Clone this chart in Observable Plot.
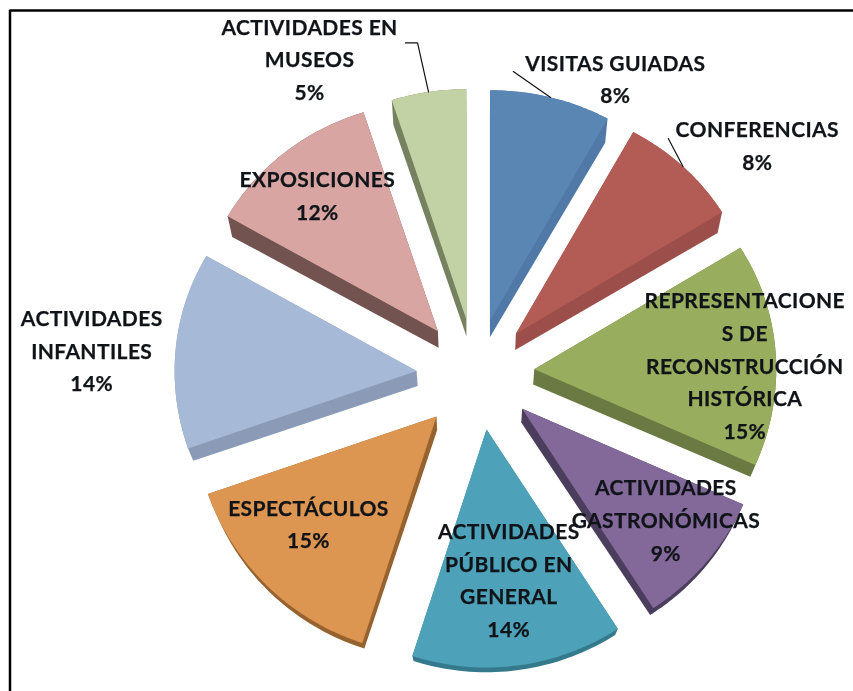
<!DOCTYPE html>
<html>
<head>
<meta charset="utf-8">
<script src="https://cdn.jsdelivr.net/npm/d3@7"></script>
<script src="https://cdn.jsdelivr.net/npm/@observablehq/plot@0.6"></script>
<style>
html,body{margin:0;padding:0;background:#fff}
svg{display:block;filter:blur(0.45px)}
svg text{letter-spacing:0.4px;stroke:#101418;stroke-width:0.25px}
</style>
</head>
<body>
<div id="chart"></div>
<script>
// Data
const labels = [
  "VISITAS GUIADAS", "CONFERENCIAS", "REPRESENTACIONE\nS DE\nRECONSTRUCCIÓN\nHISTÓRICA",
  "ACTIVIDADES\nGASTRONÓMICAS", "ACTIVIDADES\nPÚBLICO EN\nGENERAL", "ESPECTÁCULOS",
  "ACTIVIDADES\nINFANTILES", "EXPOSICIONES", "ACTIVIDADES EN\nMUSEOS"
];
const values = [8, 8, 15, 9, 14, 15, 14, 12, 5];
const faceColors = ["#5a86b4", "#b35c56", "#98ad5e", "#82699a", "#4da2b9", "#dd9552", "#a6b9d7", "#d8a5a3", "#c2d2a4"];
const sideColors = ["#5179a8", "#9c4f4a", "#6b7a42", "#4b3d5c", "#357a8c", "#96632f", "#8b9bb7", "#735350", "#76825f"];
// Manual label layout (offset of each label block from its slice's anchor)
const labelDx = [89, 142, 66, 29, -5, -32, -180, -28, -134];
const labelDy = [-107, -87, 10, 27, 15.5, 4.5, -11, -29, -123];
// Leader lines: offsets from label-block centre to the leader's bends (slices without one are empty)
const leaderBends = [[[-102, -8]], [[-89, -7.5]], [], [], [], [], [], [], [[108, -17], [96, -17]]];

// Pie geometry (a tilted, exploded 3-D pie seen in perspective)
const W = 853, H = 691;
const pie = {cx: 475, cy: 374, rx: 242, ry: 230, ryNear: 8, explodeX: 59, explodeY: 56,
             depth: 15, depthSlopeY: 0.035, depthSlopeX: 0.018, warp: 3.5 * Math.PI / 180};
const arcs = d3.pie().sort(null).startAngle(0).endAngle(2 * Math.PI)(values);
const at = (a, fx, fy) => [pie.cx + fx * Math.sin(a), pie.cy - fy * Math.cos(a)];
const extrude = ([x, y]) => [x - (x - pie.cx) * pie.depthSlopeX, y + pie.depth + (pie.cy - y) * pie.depthSlopeY];

const faces = [], sides = [], texts = [], leaders = [];
arcs.forEach((arc, i) => {
  const mid = (arc.startAngle + arc.endAngle) / 2;
  const apex = at(mid, pie.explodeX, pie.explodeY);
  const rim = a0 => {
    const near = (1 - Math.cos(a0)) / 2;
    const a = a0 + pie.warp * near;
    return [apex[0] + pie.rx * Math.sin(a), apex[1] - (pie.ry + pie.ryNear * near) * Math.cos(a)];
  };
  const pts = [apex, ...d3.range(0, 41).map(k => rim(arc.startAngle + (arc.endAngle - arc.startAngle) * k / 40))];
  pts.forEach(([x, y]) => faces.push({id: i, x, y, color: faceColors[i]}));
  const hull = d3.polygonHull([...pts, ...pts.map(extrude)]);
  hull.forEach(([x, y]) => sides.push({id: i, x, y, color: sideColors[i]}));
  const anchor = at(mid, pie.explodeX + 0.6 * pie.rx, pie.explodeY + 0.6 * pie.ry);
  const lx = anchor[0] + labelDx[i], ly = anchor[1] + labelDy[i];
  texts.push({x: lx, y: ly - 3, text: `${labels[i]}\n${values[i]}%`});
  if (leaderBends[i].length) {
    const start = rim(mid);
    leaders.push({id: i, x: start[0], y: start[1]});
    leaderBends[i].forEach(([dx, dy]) => leaders.push({id: i, x: lx + dx, y: ly + dy}));
  }
});

const frameLeft = 9.5, frameTop = 10;
const fontSize = 21;

const chart = Plot.plot({
  width: W, height: H,
  margin: 0,
  x: {domain: [0, W], range: [0, W], axis: null},
  y: {domain: [0, H], range: [0, H], axis: null},
  color: {type: "identity"},
  style: {background: "#fff"},
  marks: [
    Plot.line(sides, {x: "x", y: "y", z: "id", fill: "color", stroke: "none"}),
    Plot.line(faces, {x: "x", y: "y", z: "id", fill: "color", stroke: "none"}),
    Plot.line(leaders, {x: "x", y: "y", z: "id", stroke: "#111", strokeWidth: 1.2}),
    Plot.text(texts, {
      x: "x", y: "y", text: "text",
      fontFamily: "Lato", fontWeight: 700, fontSize,
      lineHeight: 32.7 / fontSize, textAnchor: "middle", lineAnchor: "middle",
      fill: "#101418"
    }),
    Plot.ruleX([frameLeft], {y1: frameTop, y2: H, stroke: "#000", strokeWidth: 2.5}),
    Plot.ruleY([frameTop], {x1: frameLeft, x2: W, stroke: "#000", strokeWidth: 2.5})
  ]
});
document.getElementById("chart").appendChild(chart);
</script>
</body>
</html>
